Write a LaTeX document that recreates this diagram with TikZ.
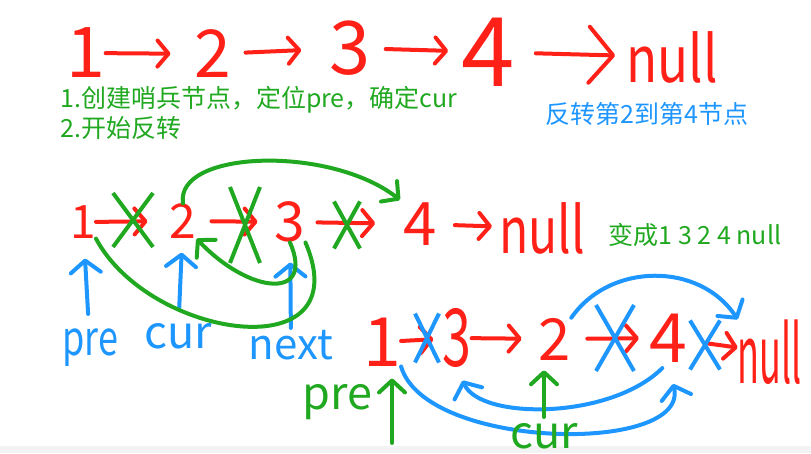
\documentclass[tikz,border=0pt]{standalone}
\usepackage{fontspec}
\newfontfamily\cjk{Noto Sans CJK SC}
\usetikzlibrary{arrows.meta,shapes.misc}
\definecolor{inkred}{RGB}{255,32,24}
\definecolor{inkgreen}{RGB}{32,168,32}
\definecolor{inkblue}{RGB}{30,150,255}
\definecolor{stripgray}{RGB}{243,243,243}
\newcommand{\fsz}[1]{\fontsize{#1}{#1}\selectfont}
\tikzset{
  digit/.style={text=inkred,inner sep=0pt,font=\cjk\fsz{#1}},
  lbl/.style={inner sep=0pt,font=\cjk\fsz{#1}},
  ink/.style={line width=4pt,line cap=round,line join=round},
  rarr/.style={ink,draw=inkred,-{Straight Barb[round,length=11pt,width=26pt]}},
  garr/.style={ink,draw=inkgreen,-{Straight Barb[round,length=12pt,width=26pt]}},
  barr/.style={ink,draw=inkblue,-{Straight Barb[round,length=12pt,width=30pt]}},
  gx/.style={cross out,draw=inkgreen,line width=4pt,inner sep=0pt},
  bx/.style={cross out,draw=inkblue,line width=4pt,inner sep=0pt}
}
\begin{document}
\begin{tikzpicture}[x=1pt,y=-1pt]
\useasboundingbox (0,0) rectangle (811,453);
\fill[stripgray] (0,446) rectangle (811,453);
% the list before
\node[digit=70] (t1) at (86,53) {1};
\node[digit=66] (t2) at (213,54) {2};
\node[digit=74] (t3) at (350,48) {3};
\node[digit=96] (t4) at (488,52) {4};
\node[digit=64] (tn) at (672,57) {\scalebox{.8}[1]{null}};
\draw[rarr,shorten >=24pt] (t1) -- (t2);
\draw[rarr,shorten <=14pt,shorten >=28pt] (t2) -- (t3);
\draw[rarr,shorten <=15pt,shorten >=13pt] (t3) -- (t4);
\draw[rarr,shorten <=21pt,shorten >=11pt,-{Straight Barb[round,length=24pt,width=56pt]}] (t4) -- (tn);
\node[lbl=25,text=inkgreen,anchor=west] (step1) at (60,100) {1.创建哨兵节点，定位pre，确定cur};
\node[lbl=25,text=inkgreen,anchor=west] (step2) at (60,128) {2.开始反转};
\node[lbl=25,text=inkblue] (goal) at (647,114) {反转第2到第4节点};
% first swap
\node[digit=46] (s1) at (83,222) {1};
\node[digit=48] (s2) at (183,221) {2};
\node[digit=55] (s3) at (290,222) {3};
\node[digit=60] (s4) at (420,224) {4};
\node[digit=64] (sn) at (542,228) {\scalebox{.75}[1]{null}};
\draw[rarr,shorten >=22pt] (s1) -- (s2);
\draw[rarr,shorten <=15pt,shorten >=17pt] (s2) -- (s3);
\draw[rarr,shorten <=12pt,shorten >=28pt] (s3) -- (s4);
\draw[rarr,shorten <=18pt,shorten >=7pt] (s4) -- (sn);
\node[gx,minimum width=36pt,minimum height=50pt] (x1) at (133,220) {};
\node[gx,minimum width=26pt,minimum height=72pt] (x2) at (245,225) {};
\node[gx,minimum width=22pt,minimum height=43pt] (x3) at (347,225) {};
\node[lbl=25,text=inkgreen] (result) at (695,235) {变成1 3 2 4 null};
\node[lbl=48,text=inkblue] (pre) at (90,348) {\scalebox{.75}[1]{pre}};
\node[lbl=45,text=inkblue] (cur) at (178,336) {cur};
\node[lbl=42,text=inkblue] (next) at (291,345) {next};
\draw[barr,shorten <=15pt,shorten >=20pt] (pre) -- (s1);
\draw[barr,shorten <=15pt,shorten >=14pt] (cur) -- (s2);
\draw[barr,shorten <=2pt,shorten >=20pt] (next) -- (s3);
\draw[garr,shorten >=4pt] (s2.north) .. controls (175,150) and (330,145) .. (s4.north west);
\draw[garr] (s3.south) .. controls (315,300) and (250,295) .. (s2.south east);
\draw[ink,draw=inkgreen] (s1.south east) .. controls (150,340) and (360,370) .. (s3.south east);
% second swap
\node[digit=68] (u1) at (382,342) {1};
\node[digit=80] (u3) at (457,338) {\scalebox{.65}[1]{3}};
\node[digit=58] (u2) at (555,339) {2};
\node[digit=68] (u4) at (668,338) {4};
\node[digit=80] (un) at (770,352) {\scalebox{.45}[1]{null}};
\draw[rarr,shorten >=9pt] (u1) -- (u3);
\draw[rarr,shorten >=17pt] (u3) -- (u2);
\draw[rarr,shorten <=16pt,shorten >=10pt] (u2) -- (u4);
\draw[rarr,shorten <=22pt] (u4) -- (un);
\node[bx,minimum width=20pt,minimum height=45pt] (y1) at (427,338) {};
\node[bx,minimum width=34pt,minimum height=62pt] (y2) at (615,338) {};
\node[bx,minimum width=26pt,minimum height=45pt] (y3) at (705,345) {};
\draw[barr] (u2.north east) .. controls (610,262) and (700,262) .. (un.north west);
\draw[barr,shorten <=8pt,shorten >=14pt] (u4.south) .. controls (610,420) and (480,420) .. (u3.south);
\draw[barr,shorten >=22pt] (u1.south east) .. controls (425,450) and (690,455) .. (u4.south);
\node[lbl=45,text=inkgreen] (pre2) at (337,402) {pre};
\coordinate (prefoot) at (392,443);
\draw[garr,shorten >=12pt] (prefoot) -- (prefoot |- u1.south);
\node[lbl=45,text=inkgreen] (cur2) at (544,436) {cur};
\draw[garr,shorten <=6pt,shorten >=10pt] (cur2) -- (cur2 |- u2.south);
\end{tikzpicture}
\end{document}
